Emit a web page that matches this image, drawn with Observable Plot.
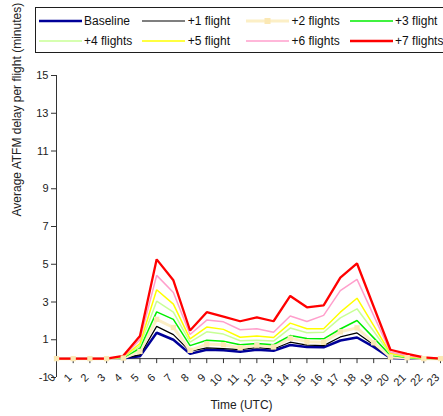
<!DOCTYPE html>
<html>
<head>
<meta charset="utf-8">
<script src="https://cdn.jsdelivr.net/npm/d3@7"></script>
<script src="https://cdn.jsdelivr.net/npm/@observablehq/plot@0.6"></script>
<style>
  html, body { margin: 0; padding: 0; background: #fff; overflow: hidden; }
  #chart { position: relative; width: 443px; height: 416px; overflow: hidden;
           font-family: "Liberation Sans", Arial, sans-serif; }
  #chart svg { display: block; }
  #chart > svg { max-width: none !important; height: 416px !important; }
  #legend { position: absolute; left: 35px; top: 7px; width: 470px; height: 45.5px;
            box-sizing: border-box; border: 1.5px solid #1e1e1e; background: #fff;
            padding: 2.5px 0 0 2.5px; display: grid;
            grid-template-columns: repeat(4, 103.7px); grid-auto-rows: 20px; }
  .item { display: flex; align-items: center; font-size: 12px; color: #111; white-space: nowrap; }
  .item svg { margin-right: 2.5px; flex: none; }
</style>
</head>
<body>
<div id="chart"></div>
<script>
// Hour of day (UTC)
const hours = [0, 1, 2, 3, 4, 5, 6, 7, 8, 9, 10, 11, 12, 13, 14, 15, 16, 17, 18, 19, 20, 21, 22, 23];

// Average ATFM delay per flight (minutes) for each scenario
const baseline = [0, 0, 0, 0, 0.02, 0.12, 1.37, 1.00, 0.25, 0.47, 0.44, 0.37, 0.47, 0.42, 0.72, 0.62, 0.60, 0.96, 1.12, 0.62, 0.03, 0.01, 0, 0];
const plus1 = [0, 0, 0, 0, 0.03, 0.20, 1.71, 1.27, 0.39, 0.57, 0.53, 0.48, 0.58, 0.51, 0.87, 0.72, 0.69, 1.15, 1.36, 0.73, 0.05, 0.02, 0, 0];
const plus2 = [0, 0, 0, 0, 0.03, 0.38, 2.08, 1.65, 0.44, 0.77, 0.74, 0.58, 0.71, 0.62, 1.08, 0.90, 0.87, 1.42, 1.63, 0.84, 0.08, 0.05, 0, 0];
const plus3 = [0, 0, 0, 0, 0.05, 0.55, 2.48, 2.08, 0.69, 0.97, 0.92, 0.74, 0.80, 0.74, 1.22, 1.07, 1.05, 1.57, 2.02, 1.10, 0.18, 0.06, 0.01, 0];
const plus4 = [0, 0, 0, 0, 0.06, 0.68, 3.04, 2.46, 0.87, 1.42, 1.30, 0.95, 0.98, 0.93, 1.62, 1.37, 1.40, 2.16, 2.64, 1.45, 0.22, 0.08, 0.02, 0];
const plus5 = [0, 0, 0, 0, 0.08, 0.80, 3.65, 2.89, 1.05, 1.67, 1.55, 1.13, 1.20, 1.12, 1.88, 1.58, 1.58, 2.46, 3.20, 1.75, 0.28, 0.10, 0.03, 0];
const plus6 = [0, 0, 0, 0, 0.10, 1.00, 4.41, 3.50, 1.28, 2.04, 1.95, 1.53, 1.58, 1.40, 2.26, 1.97, 2.29, 3.60, 4.20, 2.28, 0.35, 0.15, 0.04, 0];
const plus7 = [0, 0, 0, 0, 0.15, 1.20, 5.26, 4.15, 1.49, 2.46, 2.23, 1.98, 2.18, 1.98, 3.32, 2.72, 2.82, 4.29, 5.04, 2.75, 0.47, 0.25, 0.07, 0];

const seriesNames = ["Baseline", "+1 flight", "+2 flights", "+3 flight", "+4 flights", "+5 flight", "+6 flights", "+7 flights"];
const seriesValues = [baseline, plus1, plus2, plus3, plus4, plus5, plus6, plus7];
const seriesColors = ["#000099", "#000000", "#fcefc6", "#00ee00", "#c8ff96", "#ffff00", "#ff9fcc", "#ff0000"];
const seriesWidths = [2.5, 1.2, 3, 1.5, 1.5, 1.5, 1.5, 2.3];
const markerColor = "#fbe8b4";

const yTicks = [-1, 1, 3, 5, 7, 9, 11, 13, 15];

const rows = seriesNames.flatMap((name, i) =>
  hours.map((h, j) => ({series: name, hour: h, delay: seriesValues[i][j]})));

const axisColor = "#333";

const lines = seriesNames.map((name, i) =>
  Plot.line(rows.filter(d => d.series === name), {
    x: "hour", y: "delay",
    stroke: seriesColors[i], strokeWidth: seriesWidths[i],
    strokeLinejoin: "miter", strokeLinecap: "butt"
  }));

const chart = Plot.plot({
  width: 460,
  height: 416,
  marginTop: 75,
  marginBottom: 39,
  marginLeft: 56,
  marginRight: 20,
  x: {domain: [0, 23], axis: null},
  y: {domain: [-1, 15]},
  style: {fontFamily: "'Liberation Sans', Arial, sans-serif", fontSize: "11px", color: "#222", background: "#fff", overflow: "visible"},
  marks: [
    Plot.axisY({ticks: yTicks, tickSize: 5, tickPadding: 3, tickFormat: d => String(d), label: null, stroke: axisColor, fontSize: 11}),
    Plot.ruleX([0], {stroke: axisColor}),
    Plot.ruleY([0], {stroke: axisColor}),
    Plot.ruleX(hours, {x: d => d, y1: 0, y2: 0, insetBottom: -5, stroke: axisColor}),
    Plot.text(hours, {x: d => d, y: 0, text: d => String(d), rotate: -45, textAnchor: "end", dx: -3, dy: 17, fontSize: 11, fill: "#222"}),
    ...lines,
    Plot.dot(rows.filter(d => d.series === "+2 flights"), {x: "hour", y: "delay", symbol: "square", r: 3, fill: markerColor, stroke: "none"}),
    Plot.text(["Average ATFM delay per flight (minutes)"], {frameAnchor: "left", rotate: -90, dx: -39, dy: -10, fontSize: 12, fill: "#222"}),
    Plot.text(["Time (UTC)"], {frameAnchor: "bottom", dx: -7, dy: 31, fontSize: 12, fill: "#222"})
  ]
});

const root = document.getElementById("chart");
root.appendChild(chart);

// Legend box: line swatches with labels in two rows of four
const legend = document.createElement("div");
legend.id = "legend";
const ns = "http://www.w3.org/2000/svg";
seriesNames.forEach((name, i) => {
  const item = document.createElement("div");
  item.className = "item";
  const sw = document.createElementNS(ns, "svg");
  sw.setAttribute("width", 43);
  sw.setAttribute("height", 10);
  const ln = document.createElementNS(ns, "line");
  ln.setAttribute("x1", 0); ln.setAttribute("x2", 43);
  ln.setAttribute("y1", 5); ln.setAttribute("y2", 5);
  ln.setAttribute("stroke", seriesColors[i]);
  ln.setAttribute("stroke-width", seriesWidths[i]);
  sw.appendChild(ln);
  if (name === "+2 flights") {
    const sq = document.createElementNS(ns, "rect");
    sq.setAttribute("x", 18.5); sq.setAttribute("y", 2);
    sq.setAttribute("width", 6); sq.setAttribute("height", 6);
    sq.setAttribute("fill", markerColor);
    sw.appendChild(sq);
  }
  item.appendChild(sw);
  const label = document.createElement("span");
  label.textContent = name;
  item.appendChild(label);
  legend.appendChild(item);
});
root.appendChild(legend);
</script>
</body>
</html>
